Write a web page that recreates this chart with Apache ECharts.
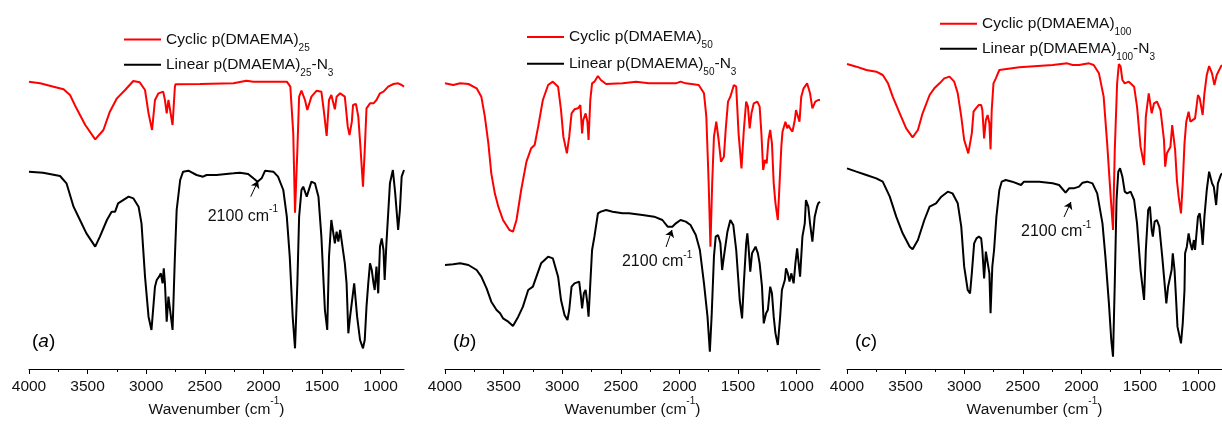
<!DOCTYPE html>
<html><head><meta charset="utf-8">
<script src="https://cdn.jsdelivr.net/npm/echarts@6/dist/echarts.min.js"></script>
<style>html,body{margin:0;padding:0;background:#fff}#c{width:1222px;height:425px}</style>
</head><body><div id="c"></div>
<script>
// ---- tick labels ----
const majorTicks = [4000, 3500, 3000, 2500, 2000, 1500, 1000];
const minorTicks = [3750, 3250, 2750, 2250, 1750, 1250];

// ---- series: [wavenumber (cm-1), offset transmittance (a.u.)] ----
const cyclic25 = [[4000,862],[3905,857],[3790,847],[3705,839],[3650,822],[3595,782],[3520,732],[3435,689],[3365,717],[3310,772],[3250,812],[3180,837],[3110,864],[3055,860],[3010,837],[2980,767],[2950,717],[2925,807],[2895,827],[2855,832],[2840,807],[2825,767],[2810,807],[2795,812],[2775,732],[2755,847],[2750,854],[2540,855],[2255,857],[2145,865],[2085,862],[1800,862],[1770,847],[1745,707],[1730,469],[1710,657],[1695,817],[1675,835],[1645,807],[1625,777],[1590,817],[1545,835],[1505,832],[1485,777],[1460,699],[1440,807],[1420,822],[1390,779],[1375,817],[1345,827],[1305,817],[1280,727],[1265,702],[1245,742],[1235,792],[1210,795],[1190,757],[1170,657],[1150,547],[1135,657],[1120,782],[1090,797],[1060,797],[1035,807],[1005,827],[975,832],[935,847],[890,855],[850,857],[820,852],[800,847]];
const linear25 = [[4000,592],[3880,589],[3735,579],[3680,557],[3620,487],[3565,447],[3510,407],[3435,367],[3395,397],[3335,447],[3295,472],[3265,472],[3240,497],[3150,517],[3110,512],[3065,487],[3040,437],[3010,277],[2980,157],[2955,117],[2925,247],[2910,267],[2890,277],[2875,287],[2860,257],[2850,302],[2840,257],[2825,142],[2810,217],[2795,222],[2775,117],[2755,337],[2740,477],[2710,567],[2685,592],[2640,595],[2570,582],[2515,577],[2485,582],[2400,582],[2255,587],[2200,589],[2130,585],[2085,572],[2050,562],[2015,572],[1985,595],[1915,592],[1875,577],[1830,537],[1800,457],[1775,337],[1750,157],[1730,62],[1710,257],[1695,457],[1675,537],[1660,547],[1630,517],[1590,562],[1560,557],[1530,517],[1505,397],[1475,177],[1455,117],[1440,337],[1420,447],[1390,377],[1375,412],[1360,382],[1345,417],[1325,367],[1305,317],[1290,257],[1275,107],[1260,157],[1245,152],[1225,257],[1215,262],[1200,157],[1175,87],[1150,62],[1135,87],[1120,187],[1105,257],[1090,317],[1075,297],[1060,257],[1050,237],[1035,307],[1020,227],[1005,367],[990,392],[975,357],[965,267],[950,377],[920,557],[895,597],[875,527],[865,527],[850,417],[835,477],[820,577],[800,597]];
const cyclic50 = [[4000,857],[3930,852],[3870,857],[3800,855],[3730,842],[3690,817],[3660,757],[3630,677],[3605,587],[3575,527],[3545,487],[3505,447],[3450,417],[3420,412],[3390,447],[3350,537],[3305,622],[3265,662],[3235,672],[3205,727],[3165,807],[3120,852],[3080,862],[3035,847],[3010,777],[2990,697],[2960,647],[2940,697],[2920,767],[2895,779],[2865,782],[2845,792],[2830,707],[2820,747],[2800,767],[2785,742],[2775,687],[2760,807],[2745,857],[2725,862],[2695,879],[2670,867],[2625,855],[2485,857],[2370,862],[2260,857],[2030,857],[1990,862],[1945,857],[1835,852],[1790,827],[1770,757],[1750,557],[1735,367],[1720,557],[1705,697],[1685,742],[1665,687],[1645,622],[1620,637],[1605,717],[1585,802],[1565,817],[1535,852],[1515,847],[1495,707],[1470,602],[1450,717],[1430,802],[1415,787],[1400,722],[1385,767],[1365,797],[1335,802],[1315,787],[1300,707],[1285,597],[1270,627],[1255,617],[1240,687],[1225,717],[1210,677],[1195,557],[1180,497],[1160,447],[1145,557],[1130,667],[1120,712],[1095,742],[1080,722],[1070,732],[1055,722],[1035,712],[1015,747],[1005,777],[990,772],[975,742],[960,817],[940,842],[910,857],[885,827],[865,782],[840,802],[815,807],[800,807]];
const linear50 = [[4000,312],[3930,314],[3870,317],[3800,312],[3730,297],[3690,277],[3645,242],[3605,202],[3560,177],[3530,167],[3505,152],[3460,142],[3420,129],[3375,157],[3335,187],[3290,237],[3250,247],[3220,277],[3180,317],[3120,337],[3080,332],[3035,277],[3010,207],[2980,162],[2955,147],[2940,177],[2920,247],[2895,257],[2880,252],[2855,262],[2840,217],[2830,182],[2815,227],[2800,237],[2785,197],[2775,157],[2760,257],[2745,357],[2725,397],[2695,467],[2670,472],[2625,477],[2570,472],[2485,467],[2430,467],[2315,462],[2215,457],[2145,447],[2100,427],[2060,427],[2030,437],[1990,447],[1945,442],[1905,432],[1860,402],[1825,357],[1790,257],[1760,157],[1740,52],[1725,157],[1705,337],[1690,397],[1670,402],[1650,377],[1635,297],[1620,337],[1590,412],[1565,447],[1540,432],[1515,357],[1485,207],[1465,152],[1450,257],[1430,377],[1420,407],[1410,367],[1395,292],[1380,347],[1350,367],[1330,347],[1315,317],[1295,247],[1280,137],[1260,167],[1245,177],[1225,247],[1210,227],[1195,157],[1180,107],[1160,72],[1140,157],[1125,237],[1100,267],[1090,302],[1075,287],[1060,262],[1045,287],[1025,257],[1010,317],[995,362],[985,327],[970,277],[950,397],[930,437],[920,507],[900,487],[885,437],[865,382],[845,457],[825,487],[815,497],[800,502]];
const cyclic100 = [[4000,915],[3920,907],[3835,897],[3750,892],[3695,882],[3650,857],[3610,817],[3550,767],[3495,722],[3440,695],[3395,717],[3355,767],[3295,822],[3255,842],[3210,857],[3170,872],[3125,877],[3085,862],[3055,827],[3025,757],[3000,687],[2965,647],[2950,642],[2935,707],[2920,772],[2900,782],[2875,792],[2855,792],[2845,777],[2830,692],[2815,747],[2800,762],[2785,737],[2775,659],[2765,777],[2750,857],[2730,872],[2700,897],[2685,902],[2530,905],[2245,912],[2120,917],[2075,912],[2020,912],[1935,917],[1895,912],[1850,887],[1810,817],[1780,677],[1750,517],[1730,417],[1715,657],[1695,857],[1680,915],[1665,907],[1650,867],[1630,857],[1595,862],[1550,847],[1525,787],[1495,667],[1465,612],[1450,757],[1425,827],[1400,767],[1380,797],[1355,802],[1325,777],[1295,687],[1285,607],[1270,647],[1255,647],[1240,667],[1225,732],[1210,727],[1200,657],[1185,567],[1170,517],[1150,467],[1135,557],[1120,677],[1105,742],[1085,772],[1070,742],[1055,742],[1030,752],[1005,822],[990,812],[975,782],[965,762],[950,827],[930,882],[910,909],[885,887],[865,852],[845,882],[810,907],[800,912]];
const linear100 = [[4000,602],[3920,592],[3835,582],[3750,572],[3695,562],[3635,517],[3580,457],[3525,407],[3465,367],[3440,359],[3395,387],[3340,447],[3295,487],[3240,497],[3195,517],[3140,532],[3100,527],[3055,497],[3025,427],[3000,307],[2970,237],[2950,227],[2935,287],[2915,377],[2895,392],[2875,397],[2855,392],[2845,357],[2830,272],[2815,352],[2800,352],[2785,287],[2775,167],[2760,307],[2745,357],[2725,457],[2700,537],[2680,562],[2645,567],[2590,562],[2515,552],[2490,562],[2360,562],[2245,557],[2190,552],[2135,529],[2105,542],[2065,542],[2020,547],[1990,559],[1950,562],[1905,557],[1865,527],[1820,437],[1795,337],[1765,197],[1745,87],[1730,37],[1715,257],[1700,507],[1685,592],[1670,602],[1650,577],[1630,532],[1610,527],[1580,532],[1550,507],[1525,437],[1495,297],[1465,207],[1450,357],[1430,477],[1415,487],[1400,417],[1390,397],[1375,442],[1355,447],[1335,427],[1310,337],[1290,257],[1275,197],[1260,247],[1245,252],[1230,297],[1220,347],[1205,297],[1190,197],[1180,127],[1150,77],[1135,137],[1120,237],[1115,347],[1100,367],[1085,407],[1070,377],[1055,357],[1040,387],[1030,357],[1005,457],[990,467],[975,417],[965,372],[950,457],[930,537],[910,592],[885,557],[870,547],[850,492],[835,557],[810,582],[800,587]];

// ---- annotations (data coords) ----
const arrow25 = [[2108,517],[2046,564]];
const arrow50 = [[2114,366],[2063,417]];
const arrow100 = [[2148,456],[2089,501]];
const note25 = [2475,457];
const note50 = [2490,321];
const note100 = [2515,411];

// ---- names ----
const cycNames = ['Cyclic p(DMAEMA)25','Cyclic p(DMAEMA)50','Cyclic p(DMAEMA)100'];
const linNames = ['Linear p(DMAEMA)25-N3','Linear p(DMAEMA)50-N3','Linear p(DMAEMA)100-N3'];
const dps = ['25','50','100'];
const panelLetters = ['a','b','c'];

const FONT = "'Liberation Sans', Arial, sans-serif";
const TXT = '#111';
const richBase = {
  n: {fontSize: 15.5, lineHeight: 18, fontFamily: FONT, color: TXT},
  sub: {fontSize: 10, lineHeight: 10, padding: [17,0,0,0], fontFamily: FONT, color: TXT},
  sup: {fontSize: 10, lineHeight: 10, padding: [0,0,18,0], fontFamily: FONT, color: TXT}
};
const richNote = {
  n: {fontSize: 16, lineHeight: 18, fontFamily: FONT, color: TXT},
  sup: {fontSize: 10, lineHeight: 10, padding: [0,0,14,0], fontFamily: FONT, color: TXT}
};

// layout
const gridLefts = [29, 445, 847];
const legendLefts = [124, 527, 940];
const legendTops = [[26, 51.2],[23.5, 50.2],[10.2, 35.2]];
const labelPos = [[32,343],[453,343],[855,343]];

const data = [[cyclic25, linear25],[cyclic50, linear50],[cyclic100, linear100]];
const arrows = [arrow25, arrow50, arrow100];
const notes = [note25, note50, note100];

const grid = [], xAxis = [], yAxis = [], series = [], legend = [], graphic = [];
const labelMap = {};
for (let i = 0; i < 3; i++) {
  labelMap[cycNames[i]] = '{n|Cyclic p(DMAEMA)}{sub|' + dps[i] + '}';
  labelMap[linNames[i]] = '{n|Linear p(DMAEMA)}{sub|' + dps[i] + '}{n|-N}{sub|3}';
  grid.push({left: gridLefts[i], width: 375, top: 19, height: 350, outerBoundsMode: 'none'});
  xAxis.push({
    type: 'value', gridIndex: i, inverse: true, min: 800, max: 4000, position: 'bottom',
    axisLine: {onZero: false, lineStyle: {color: '#000', width: 1}},
    axisTick: {show: true, inside: false, length: 5, customValues: majorTicks, lineStyle: {color: '#000'}},
    axisLabel: {customValues: majorTicks, margin: 10, fontSize: 15.5, fontFamily: FONT, color: TXT,
      formatter: (v) => String(v)},
    splitLine: {show: false},
    name: '{n|Wavenumber (cm}{sup|-1}{n|)}', nameLocation: 'middle', nameGap: 32, nameMoveOverlap: false,
    nameTextStyle: {rich: richBase}
  });
  xAxis.push({
    type: 'value', gridIndex: i, inverse: true, min: 800, max: 4000, position: 'bottom',
    axisLine: {show: false, onZero: false},
    axisTick: {show: true, inside: false, length: 3, customValues: minorTicks, lineStyle: {color: '#000'}},
    axisLabel: {show: false}, splitLine: {show: false}
  });
  yAxis.push({type: 'value', gridIndex: i, min: 0, max: 1050, show: false, splitLine: {show: false}});
  series.push({
    name: linNames[i], type: 'line', xAxisIndex: 2*i, yAxisIndex: i, data: data[i][1],
    symbol: 'none', smooth: false, color: '#000', lineStyle: {color: '#000', width: 2}, animation: false,
    markLine: {
      silent: true, animation: false,
      lineStyle: {color: '#000', width: 1, type: 'solid'}, label: {show: false},
      data: [[{coord: arrows[i][0], symbol: 'none'}, {coord: arrows[i][1], symbol: 'arrow', symbolSize: 7}]]
    },
    markPoint: {
      silent: true, animation: false, symbol: 'circle', symbolSize: 0,
      label: {show: true, position: 'right', distance: 0, formatter: '{n|2100 cm}{sup|-1}', rich: richNote},
      data: [{coord: notes[i]}]
    }
  });
  series.push({
    name: cycNames[i], type: 'line', xAxisIndex: 2*i, yAxisIndex: i, data: data[i][0],
    symbol: 'none', smooth: false, color: '#ff0000', lineStyle: {color: '#ff0000', width: 2}, animation: false
  });
  [cycNames[i], linNames[i]].forEach((nm, k) => {
    legend.push({
      data: [nm], left: legendLefts[i], top: legendTops[i][k], padding: 0, itemGap: 0,
      icon: 'rect', itemWidth: 37, itemHeight: 2, selectedMode: false,
      formatter: (name) => labelMap[name], textStyle: {rich: richBase}
    });
  });
  graphic.push({
    type: 'text', left: labelPos[i][0], top: labelPos[i][1] - 11, silent: true,
    style: {
      text: '{p|(}{it|' + panelLetters[i] + '}{p|)}',
      rich: {
        p: {fontSize: 19, fontFamily: FONT, color: TXT, lineHeight: 22},
        it: {fontSize: 19, fontFamily: FONT, fontStyle: 'italic', color: TXT, lineHeight: 22}
      }
    }
  });
}

const chart = echarts.init(document.getElementById('c'), null, {renderer: 'canvas'});
chart.setOption({animation: false, backgroundColor: '#fff', grid, xAxis, yAxis, series, legend, graphic});
</script></body></html>
